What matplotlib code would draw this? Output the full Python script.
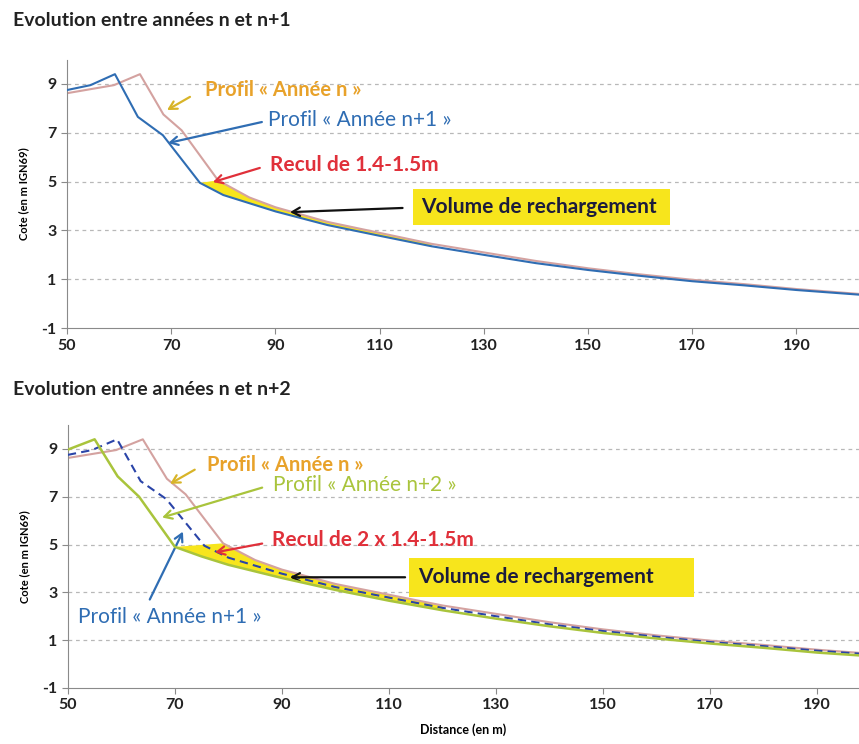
import numpy as np
import matplotlib
matplotlib.use('Agg')
import matplotlib.pyplot as plt

plt.rcParams['font.family'] = ['Lato', 'DejaVu Sans']
plt.rcParams['axes.unicode_minus'] = False

# profils (distance en m, cote en m IGN69)
x_n = [50, 59, 64, 68.5, 72, 79, 85, 90, 100, 110, 120, 130, 140, 150, 160, 170, 180, 190, 202]
y_n = [8.62, 8.95, 9.4, 7.75, 7.1, 5.05, 4.35, 3.95, 3.35, 2.9, 2.45, 2.1, 1.75, 1.45, 1.2, 0.98, 0.8, 0.6, 0.4]

x_n1 = [50, 54.5, 59.2, 63.6, 68.4, 75.5, 80, 90, 100, 110, 120, 130, 140, 150, 160, 170, 180, 190, 202]
y_n1 = [8.75, 8.95, 9.4, 7.65, 6.9, 4.95, 4.45, 3.78, 3.22, 2.78, 2.35, 2.0, 1.66, 1.38, 1.14, 0.92, 0.75, 0.56, 0.37]

x_n2 = [50, 55, 59.3, 63.3, 70, 75, 80, 90, 100, 110, 120, 130, 140, 150, 160, 170, 180, 190, 202]
y_n2 = [8.97, 9.4, 7.85, 7.0, 4.9, 4.5, 4.15, 3.6, 3.1, 2.65, 2.25, 1.9, 1.58, 1.3, 1.07, 0.86, 0.68, 0.48, 0.3]

xticks = [50, 70, 90, 110, 130, 150, 170, 190]
yticks = [-1, 1, 3, 5, 7, 9]

c_n = '#d4a2a0'
c_n1 = '#2f6db3'
c_n1_dash = '#2a44a8'
c_n2 = '#a9c43c'
c_fill = '#f7e51c'
c_orange = '#e8a22a'
c_red = '#e0303a'


def volume(ax, xl, yl, xu, yu, x0, x1, y_up_start=79):
    # polygone entre profil bas (xl, yl) et profil haut (xu, yu)
    xl = np.array(xl); yl = np.array(yl); xu = np.array(xu); yu = np.array(yu)
    ml = (xl >= x0) & (xl <= x1)
    mu = (xu >= y_up_start) & (xu <= x1)
    px = np.concatenate([xl[ml], xu[mu][::-1]])
    py = np.concatenate([yl[ml], yu[mu][::-1]])
    ax.fill(px, py, color=c_fill, lw=0, zorder=1)


def style(ax, xmax):
    ax.set_xlim(50, xmax)
    ax.set_ylim(-1, 10)
    for s in ['top', 'right']:
        ax.spines[s].set_visible(False)
    for s in ['left', 'bottom']:
        ax.spines[s].set_color('#8a8a8a')
    ax.set_xticks(xticks)
    ax.set_yticks(yticks)
    ax.tick_params(colors='#8a8a8a', length=4, labelcolor='#222222', labelsize=11.5)
    for lab in ax.get_xticklabels() + ax.get_yticklabels():
        lab.set_fontweight('bold')
    for yv in [1, 3, 5, 7, 9]:
        ax.axhline(yv, color='#b8b8b8', lw=0.9, ls=(0, (3, 3)), zorder=0)
    ax.set_ylabel('Cote (en m IGN69)', fontsize=8, fontweight='bold', labelpad=9)


def arrow(ax, tail, tip, color):
    ax.annotate('', xy=tip, xytext=tail,
                arrowprops=dict(arrowstyle='->, head_length=0.55, head_width=0.3',
                                color=color, lw=1.6, shrinkA=0, shrinkB=0))


fig = plt.figure(figsize=(8.59, 7.44), dpi=100)

# ---- n / n+1
ax1 = fig.add_axes([0.078, 0.559, 0.922, 0.361])
style(ax1, 202)
volume(ax1, x_n1, y_n1, x_n, y_n, 75.5, 120)
ax1.plot(x_n, y_n, color=c_n, lw=1.5, zorder=2)
ax1.plot(x_n1, y_n1, color=c_n1, lw=1.5, zorder=3)

ax1.text(76.5, 8.75, 'Profil « Année n »', color=c_orange, fontsize=14.5, fontweight='bold', va='center')
arrow(ax1, (73.6, 8.47), (69.2, 7.93), '#d8b428')
ax1.text(88.5, 7.52, 'Profil « Année n+1 »', color=c_n1, fontsize=15, va='center')
arrow(ax1, (87.4, 7.44), (69.4, 6.58), c_n1)
ax1.text(88.9, 5.68, 'Recul de 1.4-1.5m', color=c_red, fontsize=15, fontweight='bold', va='center')
arrow(ax1, (87.0, 5.56), (78.0, 4.98), c_red)
ax1.text(118.0, 3.96, 'Volume de rechargement ', color='#1c1c3c', fontsize=15, fontweight='bold',
         ha='left', va='center',
         bbox=dict(boxstyle='square,pad=0.4', fc=c_fill, ec='none'))
arrow(ax1, (114.4, 3.92), (92.8, 3.75), '#111111')

fig.text(0.015, 0.972, 'Evolution entre années n et n+1', fontsize=14, fontweight='bold',
         color='#222222', va='center')

# ---- n / n+2
ax2 = fig.add_axes([0.079, 0.0753, 0.921, 0.3535])
style(ax2, 197.8)
volume(ax2, x_n2, y_n2, x_n, y_n, 70, 120)
ax2.plot(x_n, y_n, color=c_n, lw=1.5, zorder=2)
ax2.plot(x_n1, y_n1, color=c_n1_dash, lw=1.5, ls=(0, (4, 2.5)), zorder=3)
ax2.plot(x_n2, y_n2, color=c_n2, lw=1.8, zorder=4)
ax2.set_xlabel('Distance (en m)', fontsize=9, fontweight='bold', labelpad=8)

ax2.text(76.0, 8.33, 'Profil « Année n »', color=c_orange, fontsize=14.5, fontweight='bold', va='center')
arrow(ax2, (73.7, 8.13), (69.1, 7.54), '#d8b428')
ax2.text(88.3, 7.5, 'Profil « Année n+2 »', color=c_n2, fontsize=15, va='center')
arrow(ax2, (86.3, 7.38), (67.6, 6.13), c_n2)
ax2.text(88.1, 5.17, 'Recul de 2 x 1.4-1.5m', color=c_red, fontsize=15, fontweight='bold', va='center')
arrow(ax2, (86.3, 5.04), (77.5, 4.67), c_red)
ax2.text(115.5, 3.63, 'Volume de rechargement      ', color='#1c1c3c', fontsize=15, fontweight='bold',
         ha='left', va='center',
         bbox=dict(boxstyle='square,pad=0.45', fc=c_fill, ec='none'))
arrow(ax2, (113.0, 3.63), (91.5, 3.63), '#111111')
ax2.text(51.9, 1.96, 'Profil « Année n+1 »', color=c_n1, fontsize=15, va='center')
arrow(ax2, (65.3, 2.7), (71.5, 5.54), c_n1)

fig.text(0.015, 0.476, 'Evolution entre années n et n+2', fontsize=14, fontweight='bold',
         color='#222222', va='center')

fig.savefig('out.png', dpi=100)
